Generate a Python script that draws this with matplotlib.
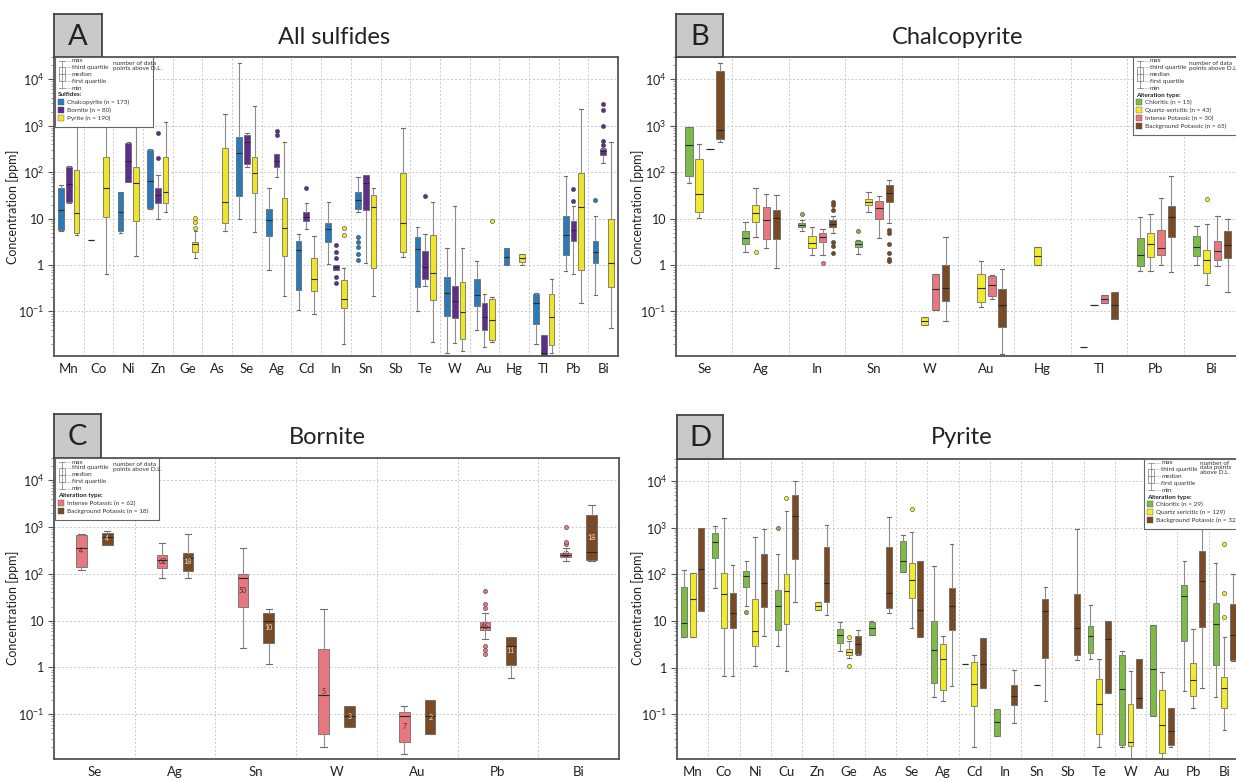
import numpy as np
import matplotlib
matplotlib.use('Agg')
import matplotlib.pyplot as plt
from matplotlib.patches import Rectangle
from matplotlib.ticker import LogLocator, NullFormatter

plt.rcParams['font.family'] = ['Lato', 'DejaVu Sans']
plt.rcParams['mathtext.default'] = 'regular'

# ---------------- data (lo whisker, q1, median, q3, hi whisker) ----------------
# A: all sulfides
A_cats = ['Mn', 'Co', 'Ni', 'Zn', 'Ge', 'As', 'Se', 'Ag', 'Cd', 'In', 'Sn', 'Sb',
          'Te', 'W', 'Au', 'Hg', 'Tl', 'Pb', 'Bi']
A_ccp = [(5.3, 5.8, 15, 45, 52), (3.5, 3.5, 3.5, 3.5, 3.5), (5, 5.3, 14, 37, 38),
         (16, 17, 64, 300, 310), None, None, (10, 30, 260, 575, 22000),
         (0.8, 4.3, 9.3, 16, 46), (0.11, 0.29, 2.1, 3.3, 4.7), (1.07, 3.2, 6, 8.1, 23),
         (14, 16, 25, 37, 80), None, (0.1, 0.33, 2.2, 4.1, 6.6),
         (0.013, 0.081, 0.25, 0.56, 2.3), (0.039, 0.13, 0.23, 0.51, 1.25),
         (0.98, 0.98, 1.5, 2.3, 2.3), (0.02, 0.055, 0.15, 0.24, 0.25),
         (0.74, 1.66, 4.5, 11.5, 83), (0.23, 1.1, 1.95, 3.3, 11.5)]
A_ccp_out = {'Sn': [1.3, 1.75, 2.5, 3.2, 4], 'Bi': [25]}
A_bn = [(22, 23, 56, 130, 135), None, (60, 62, 175, 425, 450), (10, 22, 32, 46, 85),
        None, None, (130, 150, 450, 630, 690), (80, 130, 175, 245, 250),
        (6, 9, 11, 14, 22), (0.78, 0.79, 0.9, 1.0, 1.0), (1.1, 15, 59, 87, 88), None,
        (0.35, 0.51, 0.9, 2.0, 4.6), (0.021, 0.074, 0.17, 0.35, 18.5),
        (0.017, 0.039, 0.076, 0.15, 0.24), None, (0.004, 0.005, 0.013, 0.031, 0.031),
        (0.63, 3.3, 5.8, 8.9, 19), (160, 235, 280, 315, 330)]
A_bn_out = {'Zn': [200, 700], 'Ag': [620, 760], 'Cd': [46], 'In': [0.42, 0.56, 1.45, 1.95, 2.7],
            'Te': [30], 'Pb': [24, 44], 'Bi': [380, 470, 970, 2200, 2900]}
A_py = [(4.5, 5, 13, 112, 1100), (0.65, 11, 46, 215, 1100), (1.6, 9, 59, 130, 1000),
        (14, 22, 37, 215, 1200), (1.4, 1.95, 2.8, 3.2, 5.3), (5.3, 7.9, 23, 330, 1780),
        (5.2, 36, 96, 215, 2600), (0.21, 1.6, 6.3, 28, 445), (0.087, 0.27, 0.51, 1.45, 4.3),
        (0.02, 0.12, 0.19, 0.47, 0.87), (0.21, 0.87, 18, 32, 46), (1.5, 1.95, 8, 96, 900),
        (0.022, 0.18, 0.66, 4.5, 23), (0.014, 0.026, 0.095, 0.44, 2.3),
        (0.022, 0.024, 0.065, 0.19, 0.2), (1.0, 1.17, 1.45, 1.75, 1.75),
        (0.013, 0.019, 0.076, 0.24, 0.49), (0.15, 0.8, 18, 95, 2300),
        (0.044, 0.33, 1.1, 10, 445)]
A_py_out = {'Ge': [6.3, 8.5, 10.5], 'In': [4.5, 6.3], 'Au': [8.9]}

# B: chalcopyrite by alteration type
B_cats = ['Se', 'Ag', 'In', 'Sn', 'W', 'Au', 'Hg', 'Tl', 'Pb', 'Bi']
B_chl = [(59, 83, 380, 940, 950), (1.95, 2.9, 3.9, 5.3, 8.5), (5.3, 6.6, 7.3, 8.1, 9.3),
         (1.75, 2.5, 2.8, 3.3, 3.4), None, None, None, (0.017, 0.017, 0.017, 0.017, 0.017),
         (0.76, 0.93, 1.66, 3.9, 11), (1.0, 1.6, 2.5, 4.3, 7)]
B_chl_out = {'In': [12.6], 'Sn': [5.3]}
B_qs = [(10.5, 14, 34, 190, 400), (4, 8.5, 13, 20, 46), (1.66, 2.3, 3.0, 4.3, 6.6),
        (14, 20, 23, 27, 37), (0.052, 0.052, 0.063, 0.076, 0.076), (0.125, 0.16, 0.32, 0.65, 1.25),
        (0.98, 0.98, 1.6, 2.5, 2.5), (0.135, 0.135, 0.135, 0.135, 0.135),
        (0.76, 1.5, 2.9, 5, 12.6), (0.38, 0.66, 1.3, 2.1, 7.7)]
B_qs_out = {'Ag': [1.9], 'Bi': [27]}
B_ip = [(320, 320, 320, 320, 320), (2.3, 3.6, 9.3, 18, 34), (1.66, 3.2, 4, 5, 6),
        (3.9, 10, 17, 24, 31), (0.11, 0.11, 0.3, 0.63, 0.63), (0.19, 0.22, 0.38, 0.59, 0.6),
        None, (0.155, 0.155, 0.19, 0.23, 0.23), (1.0, 1.66, 2.3, 5.8, 28), (0.93, 1.3, 2, 3.3, 11.5)]
B_ip_out = {'In': [1.1]}
B_bp = [(450, 510, 800, 15000, 22000), (0.87, 3.7, 10.5, 15.5, 32), (5, 6.6, 7.8, 9.3, 11.5),
        (8, 23, 35, 53, 68), (0.062, 0.17, 0.32, 1.0, 4), (0.012, 0.046, 0.14, 0.31, 0.83),
        None, (0.069, 0.069, 0.135, 0.26, 0.26), (0.69, 4.1, 11, 19, 83), (0.26, 1.45, 2.7, 5.5, 10)]
B_bp_out = {'In': [1.85, 2.6, 3.2, 15.5, 20, 23], 'Sn': [1.2, 1.37, 1.8, 2.8, 5, 5.8]}

# C: bornite by alteration type
C_cats = ['Se', 'Ag', 'Sn', 'W', 'Au', 'Pb', 'Bi']
C_ip = [(120, 140, 360, 690, 700), (80, 133, 200, 255, 460), (2.6, 20, 80, 98, 360),
        (0.02, 0.037, 0.26, 2.5, 18), (0.014, 0.026, 0.091, 0.11, 0.15), (4, 6.2, 7.4, 9.5, 14.5),
        (190, 230, 250, 280, 360)]
C_ip_out = {'Pb': [1.9, 2.3, 2.9, 19, 23, 43], 'Bi': [440, 490, 1000]}
C_ip_n = [4, 62, 50, 5, 7, 46, 62]
C_bp = [(420, 420, 600, 760, 830), (80, 115, 220, 280, 720), (1.2, 3.4, 10, 14.5, 18),
        (0.053, 0.053, 0.09, 0.15, 0.15), (0.037, 0.037, 0.091, 0.2, 0.2), (0.6, 1.15, 2.9, 4.4, 4.4),
        (190, 200, 300, 1850, 2900)]
C_bp_out = {}
C_bp_n = [4, 18, 10, 3, 2, 11, 18]

# D: pyrite by alteration type
D_cats = ['Mn', 'Co', 'Ni', 'Cu', 'Zn', 'Ge', 'As', 'Se', 'Ag', 'Cd', 'In', 'Sn', 'Sb',
          'Te', 'W', 'Au', 'Pb', 'Bi']
D_chl = [(4.5, 4.6, 9.2, 55, 125), (52, 230, 490, 760, 1070), (21, 55, 92, 120, 190),
         (2.9, 6.5, 21, 47, 270), None, (2.3, 3.4, 5, 6.7, 9.5), (5, 5, 7, 9.6, 9.9),
         (115, 115, 190, 510, 690), (0.24, 0.47, 2.4, 10, 150), (1.2, 1.2, 1.2, 1.2, 1.2),
         (0.034, 0.034, 0.07, 0.13, 0.13), None, None, (1.5, 2.1, 4.8, 7.9, 22),
         (0.02, 0.022, 0.35, 1.85, 2.3), (0.091, 0.091, 0.93, 8.3, 8.3),
         (0.32, 3.7, 35, 60, 190), (0.23, 1.15, 8.7, 24, 180)]
D_chl_out = {'Ni': [16], 'Cu': [1000]}
D_qs = [(4.6, 4.6, 30, 105, 105), (0.66, 7.1, 39, 110, 1600), (1.1, 2.9, 6.2, 30, 630),
        (0.87, 8.7, 45, 100, 2300), (17, 17, 21, 26, 26), (1.6, 1.85, 2.2, 2.5, 3.7), None,
        (7.1, 32, 76, 175, 810), (0.19, 0.33, 1.5, 3.2, 4.8), (0.02, 0.15, 0.45, 1.3, 1.85), None,
        (0.42, 0.42, 0.42, 0.42, 0.42), None, (0.02, 0.037, 0.17, 0.56, 1.5),
        (0.011, 0.021, 0.025, 0.17, 0.85), (0.011, 0.015, 0.06, 0.33, 0.81),
        (0.14, 0.25, 0.54, 1.27, 6.8), (0.045, 0.135, 0.37, 0.63, 4.6)]
D_qs_out = {'Cu': [4300], 'Ge': [1.1, 4.6], 'Se': [2600], 'Bi': [12, 41, 450]}
D_bp = [(16.5, 16.5, 130, 1000, 1000), (0.66, 7.2, 15, 41, 160), (4.8, 20, 67, 280, 960),
        (26, 220, 1780, 5000, 10000), (13.5, 26, 66, 380, 1170), (1.9, 1.95, 3.2, 4.8, 6.3),
        (15, 19.5, 40, 380, 1700), (4.6, 4.6, 17.5, 190, 190), (0.4, 6.3, 21, 51, 440),
        (0.36, 0.36, 1.2, 4.3, 4.3), (0.065, 0.155, 0.25, 0.43, 0.91), (0.19, 1.6, 16.5, 30, 55),
        (1.45, 1.85, 7.1, 39, 960), (0.28, 0.28, 4.2, 10, 10), (0.135, 0.135, 0.22, 1.5, 1.5),
        (0.02, 0.022, 0.044, 0.135, 0.14), (0.37, 7.4, 71, 320, 1300), (1.4, 1.45, 5, 23, 100)]
D_bp_out = {}

# colours
c_ccp, c_bn, c_pyA = '#2b7bbb', '#5f2d8e', '#eee52a'
c_chl, c_qs, c_ip, c_bp = '#7dba48', '#f2ea2c', '#e8787f', '#7a4a25'

W, H = 1236, 781
fig = plt.figure(figsize=(W / 100, H / 100), dpi=100)


def px_axes(x0, y0, x1, y1):
    # pixel box measured from the top-left corner
    return fig.add_axes([x0 / W, 1 - y1 / H, (x1 - x0) / W, (y1 - y0) / H])


def box_plot(ax, cats, series, offsets, width):
    for (stats, out, col), off in zip(series, offsets):
        bs, pos = [], []
        for i, (c, s) in enumerate(zip(cats, stats)):
            if s is None:
                continue
            lo, q1, med, q3, hi = s
            bs.append(dict(whislo=lo, q1=q1, med=med, q3=q3, whishi=hi, fliers=out.get(c, [])))
            pos.append(i + off)
        ax.bxp(bs, positions=pos, widths=width, patch_artist=True, manage_ticks=False,
               capwidths=width * 0.6,
               boxprops=dict(facecolor=col, edgecolor='#5a5a5a', linewidth=0.5),
               medianprops=dict(color='#2a2a2a', linewidth=0.8),
               whiskerprops=dict(color='#8c8c8c', linewidth=0.8),
               capprops=dict(color='#6e6e6e', linewidth=0.8),
               flierprops=dict(marker='o', markersize=3, markerfacecolor=col,
                               markeredgecolor='#444', markeredgewidth=0.4))


def style_axes(ax, cats):
    n = len(cats)
    ax.set_yscale('log')
    ax.set_ylim(0.011, 3e4)
    ax.set_xlim(-0.5, n - 0.5)
    ax.set_xticks(np.arange(n))
    ax.set_xticklabels(cats, fontsize=9.5, color='#222')
    ax.set_xticks(np.arange(n - 1) + 0.5, minor=True)
    ax.tick_params(axis='x', which='both', length=0, pad=5)
    ax.set_yticks([0.1, 1, 10, 100, 1e3, 1e4])
    ax.set_yticklabels(['$10^{-1}$', '1', '10', '$10^{2}$', '$10^{3}$', '$10^{4}$'],
                       fontsize=9, color='#222')
    ax.yaxis.set_minor_locator(LogLocator(base=10, subs=np.arange(2, 10), numticks=20))
    ax.yaxis.set_minor_formatter(NullFormatter())
    ax.tick_params(axis='y', which='major', length=4, width=0.8, color='#555', pad=3)
    ax.tick_params(axis='y', which='minor', length=2.5, width=0.5, color='#777')
    ax.grid(which='minor', axis='x', color='#c9c9c9', linestyle=(0, (2, 2)), linewidth=0.7)
    ax.grid(which='major', axis='y', color='#c9c9c9', linestyle=(0, (2, 2)), linewidth=0.7)
    ax.set_axisbelow(True)
    for sp in ax.spines.values():
        sp.set_color('#555')
        sp.set_linewidth(1.3)


def tag(letter, box, title, tx, ty):
    t = px_axes(*box)
    t.set_facecolor('#c9c9c9')
    t.set_xticks([])
    t.set_yticks([])
    for sp in t.spines.values():
        sp.set_color('#444')
        sp.set_linewidth(1.3)
    t.text(0.5, 0.47, letter, ha='center', va='center', fontsize=21, color='#222',
           transform=t.transAxes)
    fig.text(tx / W, 1 - ty / H, title, ha='center', va='center', fontsize=17, color='#222')


def key(x0, y0, wpx, head, labels, colors, nx=58, note='number of data\npoints above D.L.'):
    hpx = 46 + 8 * len(labels)
    k = px_axes(x0, y0, x0 + wpx, y0 + hpx)
    k.set_zorder(5)
    k.set_xlim(0, wpx)
    k.set_ylim(hpx, 0)
    k.set_xticks([])
    k.set_yticks([])
    for sp in k.spines.values():
        sp.set_color('#666')
        sp.set_linewidth(0.8)
    fs = 4.6
    k.plot([7, 7], [4, 31], color='#777', lw=0.5)
    k.plot([4, 10], [4, 4], color='#777', lw=0.5)
    k.plot([4, 10], [31, 31], color='#777', lw=0.5)
    k.add_patch(Rectangle((4, 10), 6, 14, facecolor='white', edgecolor='#777', lw=0.5))
    k.plot([4, 10], [17, 17], color='#777', lw=0.5)
    for yy, s in zip([4, 10, 17, 24, 31],
                     ['max', 'third quartile', 'median', 'first quartile', 'min']):
        k.plot([11, 16], [yy, yy], color='#888', lw=0.4, ls=(0, (1.5, 1)))
        k.text(17, yy, s, fontsize=fs, va='center', color='#333')
    k.text(nx, 9, note, fontsize=fs, va='center', color='#333', linespacing=0.9)
    k.text(3, 38, head, fontsize=fs, fontweight='bold', va='center', color='#222')
    for i, (lab, col) in enumerate(zip(labels, colors)):
        yy = 45 + 8 * i
        k.add_patch(Rectangle((3, yy - 3), 6, 6, facecolor=col, edgecolor='#555', lw=0.3))
        k.text(12, yy, lab, fontsize=fs, va='center', color='#333')


# ---------------- panel A ----------------
axA = px_axes(54, 57, 618, 356)
style_axes(axA, A_cats)
box_plot(axA, A_cats, [(A_ccp, A_ccp_out, c_ccp), (A_bn, A_bn_out, c_bn), (A_py, A_py_out, c_pyA)],
         [-0.26, 0.0, 0.26], 0.19)
tag('A', (54, 14, 102, 57), 'All sulfides', 334, 37)
key(55, 57, 98, 'Sulfides:', ['Chalcopyrite (n = 173)', 'Bornite (n = 80)', 'Pyrite (n = 190)'],
    [c_ccp, c_bn, c_pyA])
fig.text(13 / W, 1 - 207 / H, 'Concentration [ppm]', rotation=90, ha='center', va='center',
         fontsize=9, color='#222')

# ---------------- panel B ----------------
axB = px_axes(676, 57, 1240, 356)
style_axes(axB, B_cats)
box_plot(axB, B_cats, [(B_chl, B_chl_out, c_chl), (B_qs, B_qs_out, c_qs),
                       (B_ip, B_ip_out, c_ip), (B_bp, B_bp_out, c_bp)],
         [-0.27, -0.09, 0.1, 0.28], 0.13)
tag('B', (676, 14, 723, 57), 'Chalcopyrite', 958, 37)
key(1133, 57, 104, 'Alteration type:',
    ['Chloritic (n = 15)', 'Quartz-sericitic (n = 43)', 'Intense Potassic (n = 30)',
     'Background Potassic (n = 65)'], [c_chl, c_qs, c_ip, c_bp], nx=56)
fig.text(638 / W, 1 - 207 / H, 'Concentration [ppm]', rotation=90, ha='center', va='center',
         fontsize=9, color='#222')

# ---------------- panel C ----------------
axC = px_axes(54, 458, 619, 759)
style_axes(axC, C_cats)
box_plot(axC, C_cats, [(C_ip, C_ip_out, c_ip), (C_bp, C_bp_out, c_bp)], [-0.16, 0.16], 0.13)
for i, (a, b) in enumerate(zip(C_ip, C_ip_n)):
    axC.text(i - 0.16, np.sqrt(a[1] * a[3]), str(b), fontsize=5, ha='center', va='center',
             color='#4a2a2a')
for i, (a, b) in enumerate(zip(C_bp, C_bp_n)):
    axC.text(i + 0.16, np.sqrt(a[1] * a[3]), str(b), fontsize=5, ha='center', va='center',
             color='#f0e0c8')
tag('C', (54, 414, 101, 458), 'Bornite', 327, 437)
key(55, 458, 104, 'Alteration type:', ['Intense Potassic (n = 62)', 'Background Potassic (n = 18)'],
    [c_ip, c_bp])
fig.text(13 / W, 1 - 608 / H, 'Concentration [ppm]', rotation=90, ha='center', va='center',
         fontsize=9, color='#222')

# ---------------- panel D ----------------
axD = px_axes(677, 459, 1240, 759)
style_axes(axD, D_cats)
box_plot(axD, D_cats, [(D_chl, D_chl_out, c_chl), (D_qs, D_qs_out, c_qs), (D_bp, D_bp_out, c_bp)],
         [-0.28, 0.0, 0.28], 0.19)
tag('D', (677, 415, 723, 459), 'Pyrite', 962, 437)
key(1144, 459, 93, 'Alteration type:',
    ['Chloritic (n = 29)', 'Quartz sericitic (n = 129)', 'Background Potassic (n = 32)'],
    [c_chl, c_qs, c_bp], nx=56, note='number of\ndata points\nabove D.L.')
fig.text(638 / W, 1 - 608 / H, 'Concentration [ppm]', rotation=90, ha='center', va='center',
         fontsize=9, color='#222')

fig.savefig('out.png', dpi=100, facecolor='white')
